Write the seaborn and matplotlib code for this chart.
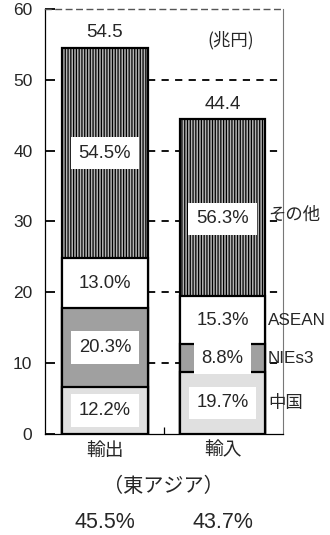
import numpy as np
import matplotlib
matplotlib.use("Agg")
import matplotlib.pyplot as plt
import matplotlib.transforms as mtransforms
import seaborn as sns

# Trade with East Asia, trillion yen, broken down by partner region
flows = ["輸出", "輸入"]
totals = [54.5, 44.4]
regions = ["中国", "NIEs3", "ASEAN", "その他"]
shares = {
    "中国": [12.2, 19.7],
    "NIEs3": [20.3, 8.8],
    "ASEAN": [13.0, 15.3],
    "その他": [54.5, 56.3],
}
east_asia_share = ["45.5%", "43.7%"]
yticks = [0, 10, 20, 30, 40, 50, 60]

sns.set_theme(style="white")
plt.rcParams["font.family"] = ["Liberation Sans", "Noto Sans CJK JP"]
plt.rcParams["hatch.linewidth"] = 0.9
plt.rcParams["hatch.color"] = "black"
JP = ["Noto Sans CJK JP", "Liberation Sans"]

styles = {
    "中国": dict(color="#e0e0e0", hatch=None),
    "NIEs3": dict(color="#a0a0a0", hatch=None),
    "ASEAN": dict(color="#ffffff", hatch=None),
    "その他": dict(color="#b4b4b4", hatch="||||||"),
}

fig = plt.figure(figsize=(3.3, 5.35), dpi=100)
ax = fig.add_axes([0.136, 0.189, 0.722, 0.794])

# segment heights in trillion yen
seg = {r: np.array(shares[r]) / 100.0 * np.array(totals) for r in regions}
cum = np.cumsum([seg[r] for r in regions], axis=0)
bar_w = 0.73

# draw cumulative bars from the top layer down so lower layers cover them
for i in range(len(regions) - 1, -1, -1):
    r = regions[i]
    n0 = len(ax.patches)
    sns.barplot(x=flows, y=cum[i], ax=ax, width=bar_w, color=styles[r]["color"],
                saturation=1, edgecolor="black", linewidth=1.6, zorder=2)
    for p in ax.patches[n0:]:
        if styles[r]["hatch"]:
            p.set_hatch(styles[r]["hatch"])

ax.set_xlim(-0.51, 1.515)
ax.set_ylim(0, 60)

# dashed reference lines, only right of the first bar
for y in yticks[1:-1]:
    ax.hlines(y, bar_w / 2, 1.515, colors="black", linestyles=(0, (4, 3.5)),
              linewidth=1.3, zorder=0)

# axes frame
ax.spines["left"].set_color("black")
ax.spines["left"].set_linewidth(0.9)
ax.spines["bottom"].set_color("black")
ax.spines["bottom"].set_linewidth(0.9)
ax.spines["top"].set_color("#555555")
ax.spines["top"].set_linestyle((0, (4, 3.5)))
ax.spines["top"].set_linewidth(1.0)
ax.spines["right"].set_color("#777777")
ax.spines["right"].set_linestyle((0, (1, 1)))
ax.spines["right"].set_linewidth(0.8)

ax.set_yticks(yticks)
ax.set_yticklabels([str(t) for t in yticks], fontsize=12.5)
ax.tick_params(axis="y", direction="in", length=7, width=1.3, color="black",
               pad=9, left=True)
ax.set_xticks([0, 1])
ax.set_xticklabels(flows, fontsize=13.5, family=JP)
ax.tick_params(axis="x", length=0, pad=4)
ax.set_xticks([0.5], minor=True)
ax.tick_params(axis="x", which="minor", direction="in", length=5, width=0.9,
               bottom=True, color="black")
ax.set_xlabel("")
ax.set_ylabel("")

# percentage boxes inside each segment; the big import segment's box sits a little low
for j in range(len(flows)):
    lower = 0.0
    for i, r in enumerate(regions):
        mid = lower + seg[r][j] / 2
        lower = cum[i][j]
        dy = -8 if (j == 1 and r == "その他") else 0
        ax.annotate(f"{shares[r][j]:.1f}%", (j, mid), xytext=(0, dy),
                    textcoords="offset points", ha="center", va="center",
                    fontsize=13.3, zorder=5,
                    bbox=dict(boxstyle="square,pad=0.42", fc="white", ec="none"))

# totals above bars
for j, t in enumerate(totals):
    ax.annotate(f"{t:.1f}", (j, t), xytext=(0, 5), textcoords="offset points",
                ha="center", va="bottom", fontsize=13.5)

# region names beside the import bar
lower = 0.0
for i, r in enumerate(regions):
    mid = lower + seg[r][1] / 2
    lower = cum[i][1]
    dy = -5 if r == "その他" else 0
    fam = JP if r in ("中国", "その他") else None
    ax.annotate(r, (1.385, mid), xytext=(0, dy), textcoords="offset points",
                ha="left", va="center", fontsize=12.5 if fam else 12.3,
                zorder=6, annotation_clip=False, family=fam)

ax.text(1.07, 55.6, "(兆円)", ha="center", va="center", fontsize=12.5,
        family=JP)

# East Asia share under each bar
blend = mtransforms.blended_transform_factory(ax.transData, fig.transFigure)
ax.text(0.5, 1 - 487 / 535, "（東アジア）", transform=blend, ha="center",
        va="center", fontsize=14.5, family=JP, clip_on=False)
for j, s in enumerate(east_asia_share):
    ax.text(j, 1 - 523 / 535, s, transform=blend, ha="center", va="center",
            fontsize=15.5, clip_on=False)

fig.savefig("out.png", dpi=100)
